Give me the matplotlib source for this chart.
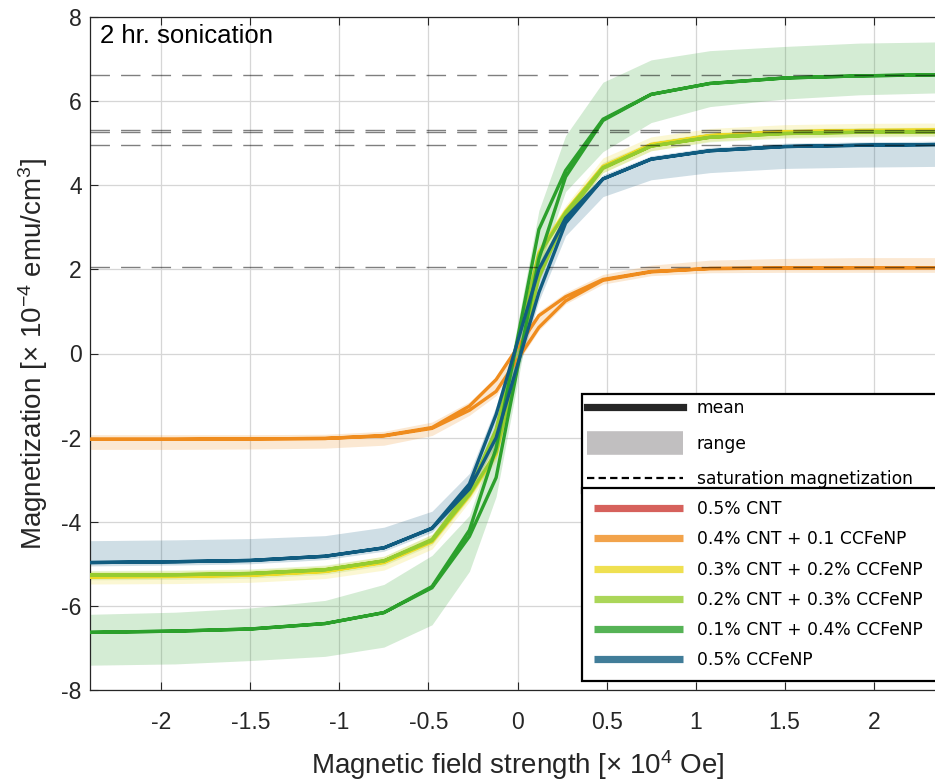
import numpy as np
import matplotlib
matplotlib.use("Agg")
import matplotlib.pyplot as plt
from matplotlib.lines import Line2D

plt.rcParams["font.family"] = ["Liberation Sans", "DejaVu Sans"]
plt.rcParams["mathtext.fontset"] = "custom"
plt.rcParams["mathtext.rm"] = "Liberation Sans"
plt.rcParams["mathtext.it"] = "Liberation Sans"

# Applied field (x 10^4 Oe)
field = [-2.4, -1.92, -1.5, -1.08, -0.75, -0.48, -0.27, -0.12,
         0.12, 0.27, 0.48, 0.75, 1.08, 1.5, 1.92, 2.4]

labels = ["0.5% CNT", "0.4% CNT + 0.1 CCFeNP", "0.3% CNT + 0.2% CCFeNP",
          "0.2% CNT + 0.3% CCFeNP", "0.1% CNT + 0.4% CCFeNP", "0.5% CCFeNP"]
colors = ["#cc3a33", "#ef8c1e", "#ecd925", "#96cc30", "#2ca02c", "#115c80"]

# Magnetization (x 10^-4 emu/cm^3): mean of descending / ascending branch, range bounds
cnt40_desc = [-2.04, -2.04, -2.03, -2.02, -1.95, -1.76, -1.25, -0.62, 0.90, 1.35, 1.76, 1.95, 2.02, 2.03, 2.04, 2.04]
cnt40_asc = [-2.04, -2.04, -2.03, -2.02, -1.96, -1.78, -1.35, -0.90, 0.62, 1.25, 1.74, 1.94, 2.02, 2.03, 2.04, 2.04]
cnt40_lo = [-2.28, -2.28, -2.27, -2.25, -2.18, -1.95, -1.47, -1.00, 0.55, 1.18, 1.65, 1.85, 1.92, 1.93, 1.93, 1.93]
cnt40_hi = [-1.93, -1.93, -1.93, -1.92, -1.85, -1.63, -1.15, -0.55, 1.00, 1.45, 1.88, 2.10, 2.22, 2.26, 2.28, 2.28]

cnt30_desc = [-5.31, -5.30, -5.27, -5.18, -4.96, -4.45, -3.28, -1.85, 2.40, 3.38, 4.45, 4.97, 5.18, 5.27, 5.30, 5.31]
cnt30_asc = [-5.31, -5.30, -5.27, -5.18, -4.97, -4.48, -3.38, -2.40, 1.85, 3.28, 4.43, 4.96, 5.18, 5.27, 5.30, 5.31]
cnt30_lo = [-5.48, -5.47, -5.44, -5.35, -5.15, -4.65, -3.52, -2.55, 1.75, 3.15, 4.30, 4.82, 5.05, 5.14, 5.17, 5.18]
cnt30_hi = [-5.18, -5.17, -5.14, -5.05, -4.82, -4.30, -3.15, -1.75, 2.55, 3.52, 4.65, 5.15, 5.35, 5.44, 5.47, 5.48]

cnt20_desc = [-5.27, -5.26, -5.23, -5.14, -4.93, -4.42, -3.25, -1.80, 2.35, 3.35, 4.42, 4.93, 5.14, 5.23, 5.26, 5.27]
cnt20_asc = [-5.27, -5.26, -5.23, -5.14, -4.93, -4.45, -3.35, -2.35, 1.80, 3.25, 4.40, 4.93, 5.14, 5.23, 5.26, 5.27]
cnt20_lo = [-5.38, -5.37, -5.34, -5.25, -5.04, -4.55, -3.45, -2.48, 1.70, 3.15, 4.30, 4.82, 5.03, 5.12, 5.15, 5.16]
cnt20_hi = [-5.16, -5.15, -5.12, -5.03, -4.82, -4.30, -3.15, -1.70, 2.48, 3.45, 4.55, 5.04, 5.25, 5.34, 5.37, 5.38]

cnt10_desc = [-6.63, -6.60, -6.55, -6.42, -6.16, -5.54, -4.20, -2.25, 2.95, 4.35, 5.57, 6.16, 6.42, 6.55, 6.60, 6.63]
cnt10_asc = [-6.63, -6.60, -6.55, -6.42, -6.16, -5.57, -4.35, -2.95, 2.25, 4.20, 5.54, 6.16, 6.42, 6.55, 6.60, 6.63]
cnt10_lo = [-7.41, -7.38, -7.30, -7.20, -6.98, -6.45, -5.18, -3.40, 2.00, 3.85, 4.80, 5.49, 5.87, 6.05, 6.15, 6.20]
cnt10_hi = [-6.20, -6.15, -6.05, -5.87, -5.49, -4.80, -3.85, -2.00, 3.40, 5.18, 6.45, 6.98, 7.20, 7.30, 7.38, 7.41]

fe50_desc = [-4.97, -4.95, -4.92, -4.82, -4.62, -4.15, -3.10, -1.45, 2.00, 3.22, 4.15, 4.62, 4.82, 4.92, 4.95, 4.97]
fe50_asc = [-4.97, -4.95, -4.92, -4.82, -4.62, -4.16, -3.22, -2.00, 1.45, 3.10, 4.15, 4.62, 4.82, 4.92, 4.95, 4.97]
fe50_lo = [-5.05, -5.03, -5.00, -4.90, -4.70, -4.25, -3.32, -2.15, 1.25, 2.80, 3.73, 4.13, 4.30, 4.40, 4.43, 4.45]
fe50_hi = [-4.45, -4.43, -4.40, -4.33, -4.13, -3.75, -2.85, -1.25, 2.15, 3.32, 4.25, 4.70, 4.90, 5.00, 5.03, 5.05]

# Saturation magnetization per sample
saturation = [2.05, 5.32, 5.26, 6.63, 4.96]

samples = [
    (cnt40_desc, cnt40_asc, cnt40_lo, cnt40_hi, colors[1]),
    (cnt30_desc, cnt30_asc, cnt30_lo, cnt30_hi, colors[2]),
    (cnt20_desc, cnt20_asc, cnt20_lo, cnt20_hi, colors[3]),
    (cnt10_desc, cnt10_asc, cnt10_lo, cnt10_hi, colors[4]),
    (fe50_desc, fe50_asc, fe50_lo, fe50_hi, colors[5]),
]

W, H = 935, 782
fig = plt.figure(figsize=(W / 100, H / 100), dpi=100)
ax = fig.add_axes([90 / W, 92 / H, 855 / W, 673 / H])

ax.set_xlim(-2.4, 2.4)
ax.set_ylim(-8, 8)

h = np.array(field)
for desc, asc, lo, hi, c in samples:
    ax.fill_between(h, lo, hi, color=c, alpha=0.2, linewidth=0, zorder=2)
for desc, asc, lo, hi, c in samples:
    loop_x = np.concatenate([h, h[::-1]])
    loop_y = np.concatenate([asc, desc[::-1]])
    ax.plot(loop_x, loop_y, color=c, lw=2.4, zorder=3, solid_joinstyle="miter")
for s in saturation:
    ax.axhline(s, color="black", alpha=0.5, lw=1.0, dashes=(14, 8), zorder=4)

ax.set_xticks([-2, -1.5, -1, -0.5, 0, 0.5, 1, 1.5, 2])
ax.set_xticklabels(["-2", "-1.5", "-1", "-0.5", "0", "0.5", "1", "1.5", "2"])
ax.set_yticks([-8, -6, -4, -2, 0, 2, 4, 6, 8])
ax.set_yticklabels(["-8", "-6", "-4", "-2", "0", "2", "4", "6", "8"])
ax.grid(True, color="#d6d6d6", lw=0.9, zorder=0)
ax.set_axisbelow(True)
ax.tick_params(axis="both", direction="in", length=6, width=0.8, colors="#262626",
               labelsize=16.5, labelcolor="#262626")
ax.tick_params(axis="x", pad=15, top=True)
ax.tick_params(axis="y", pad=6)
for side in ["left", "bottom", "top"]:
    ax.spines[side].set_color("#262626")
    ax.spines[side].set_linewidth(0.9)
ax.spines["right"].set_visible(False)

ax.set_xlabel("Magnetic field strength [× 10$^{4}$ Oe]", fontsize=20, color="#262626", labelpad=10)
ax.set_ylabel("Magnetization [× 10$^{-4}$ emu/cm$^{3}$]", fontsize=20, color="#262626", labelpad=8)

ax.text(100 / W, 1 - 24 / H, "2 hr. sonication", transform=fig.transFigure,
        fontsize=18.5, color="black", va="top", ha="left", zorder=6)

# Legend: statistic key on top, samples below
fs = 12.3
key_handles = [
    Line2D([], [], color="#262626", lw=5.2),
    Line2D([], [], color="#c1bfc0", lw=17, solid_capstyle="butt"),
    Line2D([], [], color="black", lw=1.6, dashes=(3.3, 1.9)),
]
leg1 = ax.legend(key_handles, ["mean", "range", "saturation magnetization"],
                 prop={"family": "DejaVu Sans", "size": fs},
                 loc="upper left", bbox_to_anchor=(582 / W, 1 - 394 / H, 365 / W, 0),
                 bbox_transform=fig.transFigure, mode="expand", borderaxespad=0,
                 handlelength=5.6, handletextpad=0.82, labelspacing=1.03, borderpad=0.3,
                 fancybox=False, framealpha=1, edgecolor="black")
leg1.get_frame().set_linewidth(1.6)
leg1.set_zorder(10)
ax.add_artist(leg1)

sample_handles = [Line2D([], [], color=c, lw=5.2, alpha=0.8, solid_capstyle="butt") for c in colors]
leg2 = ax.legend(sample_handles, labels,
                 prop={"family": "DejaVu Sans", "size": fs},
                 loc="upper left", bbox_to_anchor=(582 / W, 1 - 488 / H, 365 / W, 0),
                 bbox_transform=fig.transFigure, mode="expand", borderaxespad=0,
                 handlelength=5.2, handletextpad=0.82, labelspacing=0.72, borderpad=0.7,
                 fancybox=False, framealpha=1, edgecolor="black")
leg2.get_frame().set_linewidth(1.6)
leg2.set_zorder(11)

fig.savefig("out.png", dpi=100)
